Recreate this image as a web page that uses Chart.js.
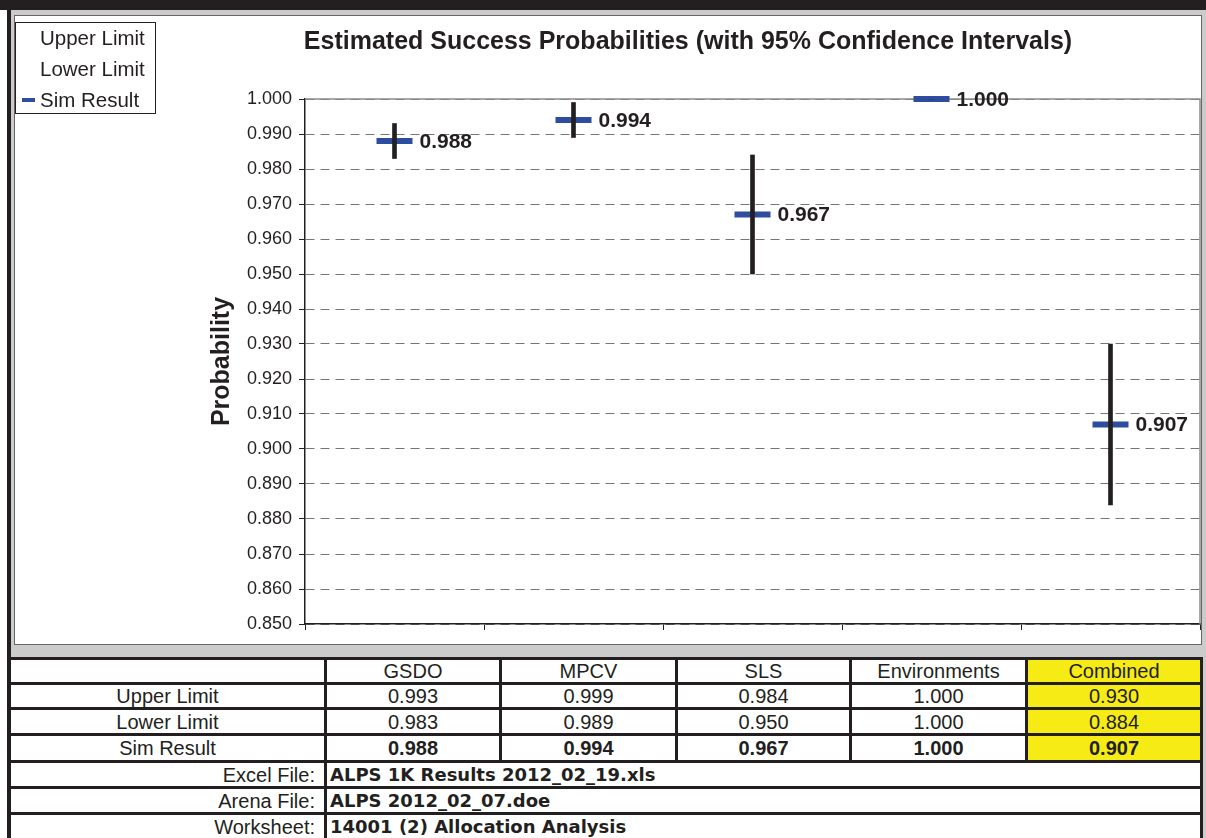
<!DOCTYPE html>
<html>
<head>
<meta charset="utf-8">
<script src="https://cdn.jsdelivr.net/npm/chart.js@4.4.1/dist/chart.umd.min.js"></script>
<style>
  body { margin: 0; width: 1206px; height: 838px; overflow: hidden; background: #fff; position: relative;
         font-family: "Liberation Sans", Arial, sans-serif; color: #231f20; }
  .blk { position: absolute; background: #231f20; }
  #gray { position: absolute; left: 11px; top: 10px; width: 1195px; height: 828px; background: #cbcbcb; }
  #plot { position: absolute; left: 14px; top: 15px; width: 1188px; height: 630px; background: #fff;
          border: 1px solid #666; box-sizing: border-box; }
  #wrap { position: absolute; left: 15px; top: 16px; width: 1186px; height: 628px; }
  #tbl { position: absolute; left: 8px; top: 657px; width: 1192px; border-collapse: collapse;
         table-layout: fixed; background: #fff; }
  #tbl td { border: 3px solid #231f20; padding: 0; font-size: 20px; line-height: 20px; text-align: center;
            white-space: nowrap; overflow: hidden; }
  #tbl td.yel { background: #f6eb14; }
  #tbl tr.bold td { font-weight: bold; }
  #tbl td.lab { text-align: right; padding-right: 9px; }
  #tbl td.val { text-align: left; padding-left: 3px; font-family: "DejaVu Sans", Verdana, sans-serif;
                font-weight: bold; font-size: 18px; }
</style>
</head>
<body>
<div id="gray"></div>
<div class="blk" style="left:0;top:0;width:1206px;height:10px"></div>
<div class="blk" style="left:7px;top:0;width:4px;height:838px"></div>
<div id="plot"></div>
<div id="wrap"><canvas id="chart" width="1186" height="628"></canvas></div>
<table id="tbl"></table>

<script>
const categories = ["GSDO", "MPCV", "SLS", "Environments", "Combined"];
const upperLimit = [0.993, 0.999, 0.984, 1.000, 0.930];
const lowerLimit = [0.983, 0.989, 0.950, 1.000, 0.884];
const simResult  = [0.988, 0.994, 0.967, 1.000, 0.907];
const legendLabels = ["Upper Limit", "Lower Limit", "Sim Result"];
const fileLabels = ["Excel File:", "Arena File:", "Worksheet:"];
const fileValues = ["ALPS 1K Results 2012_02_19.xls", "ALPS 2012_02_07.doe", "14001 (2) Allocation Analysis"];

const ink = "#231f20";
const blue = "#2f4d9e";

// table under the chart
const tbl = document.getElementById("tbl");
const widths = [316, 175, 176, 174, 176, 175];
const heights = [25, 25, 26, 27, 26, 26, 27];
let html = "<colgroup>" + widths.map(w => '<col style="width:' + w + 'px">').join("") + "</colgroup>";
html += '<tr style="height:' + heights[0] + 'px"><td></td>' +
  categories.map((c, i) => '<td' + (i === 4 ? ' class="yel"' : '') + '>' + c + '</td>').join("") + "</tr>";
const rows = [["Upper Limit", upperLimit, ""], ["Lower Limit", lowerLimit, ""], ["Sim Result", simResult, "bold"]];
rows.forEach((r, k) => {
  html += '<tr class="' + r[2] + '" style="height:' + heights[k + 1] + 'px"><td style="font-weight:normal">' + r[0] + '</td>' +
    r[1].map((v, i) => '<td' + (i === 4 ? ' class="yel"' : '') + '>' + v.toFixed(3) + '</td>').join("") + "</tr>";
});
fileLabels.forEach((l, k) => {
  html += '<tr style="height:' + heights[k + 4] + 'px"><td class="lab">' + l + '</td><td class="val" colspan="5">' + fileValues[k] + '</td></tr>';
});
tbl.innerHTML = html;

// title, legend, plot frame and value labels
const extras = {
  id: "extras",
  beforeDatasetsDraw(chart) {
    const { ctx, chartArea: a } = chart;
    ctx.save();
    ctx.strokeStyle = "#8c8c8c";
    ctx.lineWidth = 1.5;
    ctx.beginPath();
    ctx.moveTo(a.left, a.top);
    ctx.lineTo(a.right, a.top);
    ctx.lineTo(a.right, a.bottom);
    ctx.stroke();
    ctx.restore();
  },
  afterDatasetsDraw(chart) {
    const ctx = chart.ctx;
    const meta = chart.getDatasetMeta(1);
    ctx.save();
    ctx.font = "bold 21px 'Liberation Sans', Arial";
    ctx.fillStyle = ink;
    ctx.textBaseline = "middle";
    meta.data.forEach((pt, i) => {
      ctx.fillText(simResult[i].toFixed(3), pt.x + 25, pt.y + 1);
    });
    ctx.restore();
  },
  afterDraw(chart) {
    const ctx = chart.ctx;
    ctx.save();
    ctx.fillStyle = ink;
    ctx.textAlign = "center";
    ctx.textBaseline = "middle";
    ctx.font = "bold 25px 'Liberation Sans', Arial";
    ctx.fillText("Estimated Success Probabilities (with 95% Confidence Intervals)", 673, 26);
    // legend
    ctx.strokeStyle = ink;
    ctx.lineWidth = 1;
    ctx.strokeRect(0.5, 6.5, 140, 91);
    ctx.textAlign = "left";
    ctx.font = "20.5px 'Liberation Sans', Arial";
    legendLabels.forEach((t, i) => ctx.fillText(t, 25, 23 + i * 31));
    ctx.strokeStyle = blue;
    ctx.lineWidth = 4;
    ctx.beginPath();
    ctx.moveTo(7, 84);
    ctx.lineTo(20, 84);
    ctx.stroke();
    ctx.restore();
  }
};

new Chart(document.getElementById("chart"), {
  type: "bar",
  data: {
    labels: categories,
    datasets: [
      {
        label: "95% CI",
        data: categories.map((c, i) => [lowerLimit[i], upperLimit[i]]),
        backgroundColor: ink,
        barThickness: 4,
        borderSkipped: false,
      },
      {
        type: "line",
        label: "Sim Result",
        data: simResult,
        showLine: false,
        clip: false,
        pointStyle: "line",
        pointRadius: 18,
        pointHoverRadius: 18,
        pointBorderWidth: 6,
        pointHoverBorderWidth: 6,
        borderColor: blue,
        pointBorderColor: blue,
      },
    ],
  },
  options: {
    responsive: false,
    animation: false,
    devicePixelRatio: 1,
    layout: {
      autoPadding: false,
      padding: { left: 188, top: 83, right: 1, bottom: 12 },
    },
    plugins: {
      legend: { display: false },
      tooltip: { enabled: false },
    },
    scales: {
      x: {
        offset: true,
        grid: {
          offset: true,
          drawOnChartArea: false,
          tickLength: 6,
          tickColor: ink,
        },
        border: { color: ink, width: 1.5 },
        ticks: { display: false },
        afterFit: (s) => { s.height = 8; },
      },
      y: {
        min: 0.85,
        max: 1.0,
        ticks: {
          stepSize: 0.01,
          color: ink,
          padding: 7,
          font: { family: "'Liberation Sans', Arial", size: 18 },
          callback: (v) => v.toFixed(3),
        },
        grid: {
          color: "#767676",
          tickLength: 6,
          tickColor: ink,
          tickBorderDash: [],
        },
        border: { color: ink, width: 1.5, dash: [9, 6] },
        title: {
          display: true,
          text: "Probability",
          color: ink,
          font: { family: "'Liberation Sans', Arial", size: 25, weight: "bold" },
        },
        afterFit: (s) => { s.width = 102; },
      },
    },
  },
  plugins: [extras],
});
</script>
</body>
</html>
